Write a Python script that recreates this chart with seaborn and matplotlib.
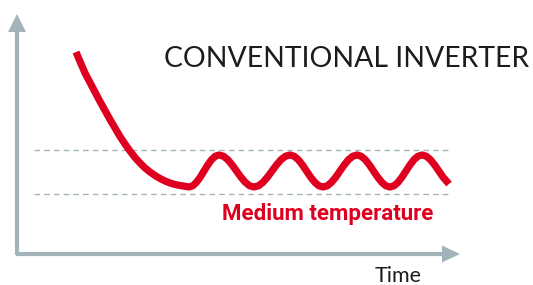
import numpy as np
import pandas as pd
import matplotlib
matplotlib.use("Agg")
import matplotlib.pyplot as plt
import seaborn as sns

# curve (x = time, y = screen height, pixel units)
decay_t = [76, 80, 85, 90, 95, 100, 105, 110, 115, 120, 125, 130, 135, 140,
           145, 150, 155, 160, 165, 170, 175, 180, 185]
decay_y = [52, 61.5, 73, 82.5, 92, 101.5, 110.5, 119.5, 128, 136.5, 144, 151,
           157.5, 163, 168, 172, 175.5, 178.5, 181, 183, 184.5, 185.5, 186.3]

wave_t = [189, 192.8, 196.5, 200.3, 204, 207.8, 211.5, 215.3,
          219, 223.4, 227.8, 232.1, 236.5, 240.9, 245.3, 249.6,
          254, 258.5, 263, 267.5, 272, 276.5, 281, 285.5,
          290, 294.1, 298.3, 302.4, 306.5, 310.6, 314.8, 318.9,
          323, 327.3, 331.5, 335.8, 340, 344.3, 348.5, 352.8,
          357, 361.1, 365.3, 369.4, 373.5, 377.6, 381.8, 385.9,
          390, 394, 398, 402, 406, 410, 414, 418,
          422, 426.2, 430.4, 434.6, 438.8, 443, 449]
wave_y = [187, 185.8, 182.3, 177.1, 171, 164.9, 159.7, 156.2,
          155, 156.2, 159.7, 164.9, 171, 177.1, 182.3, 185.8,
          187, 185.8, 182.3, 177.1, 171, 164.9, 159.7, 156.2,
          155, 156.2, 159.7, 164.9, 171, 177.1, 182.3, 185.8,
          187, 185.8, 182.3, 177.1, 171, 164.9, 159.7, 156.2,
          155, 156.2, 159.7, 164.9, 171, 177.1, 182.3, 185.8,
          187, 185.8, 182.3, 177.1, 171, 164.9, 159.7, 156.2,
          155, 156.2, 159.7, 164.9, 171, 177.1, 184]

band = [149.5, 194]  # dashed limits of the medium temperature band

title_txt = "CONVENTIONAL INVERTER"
band_txt = "Medium temperature"
xlabel_txt = "Time"

RED = "#DF0020"
AXIS = "#A2B4BA"
INK = "#1c1c1c"

sns.set_style("white")

fig = plt.figure(figsize=(5.33, 2.85), dpi=100)
ax = fig.add_axes([0, 0, 1, 1])

# dashed band lines
ax.hlines(band, 34, 451, colors=AXIS, linestyles=(0, (4, 3)), linewidth=1)

# axes arrows
ax.plot([17, 17], [255, 30], color=AXIS, lw=3, solid_capstyle="butt")
ax.fill([8, 26, 17], [32, 32, 14], color=AXIS, lw=0)
ax.plot([15.5, 444], [254, 254], color=AXIS, lw=3, solid_capstyle="butt")
ax.fill([442, 442, 460], [245.5, 262.5, 254], color=AXIS, lw=0)

df = pd.DataFrame({"time": decay_t + wave_t, "level": decay_y + wave_y})
sns.lineplot(data=df, x="time", y="level", ax=ax, color=RED, linewidth=5.2,
             sort=False, legend=False)
ax.lines[-1].set_solid_capstyle("butt")
ax.lines[-1].set_solid_joinstyle("round")

ax.set_xlim(0, 533)
ax.set_ylim(285, 0)
ax.axis("off")


def fit_text(x, y, s, width, **kw):
    t = ax.text(x, y, s, ha="left", va="baseline", **kw)
    fig.canvas.draw()
    w = t.get_window_extent().width
    t.set_fontsize(t.get_fontsize() * width / w)
    return t


thin = ["Lato", "Roboto", "DejaVu Sans"]
fit_text(164, 67, title_txt, 364, fontsize=20, family=thin,
         fontweight="normal", color=INK)
fit_text(222, 220, band_txt, 212, fontsize=14, family=["Roboto", "DejaVu Sans"],
         fontweight="bold", color=RED)
fit_text(375, 282, xlabel_txt, 47, fontsize=14, family=thin,
         fontweight="normal", color=INK)

fig.savefig("out.png", dpi=100)
